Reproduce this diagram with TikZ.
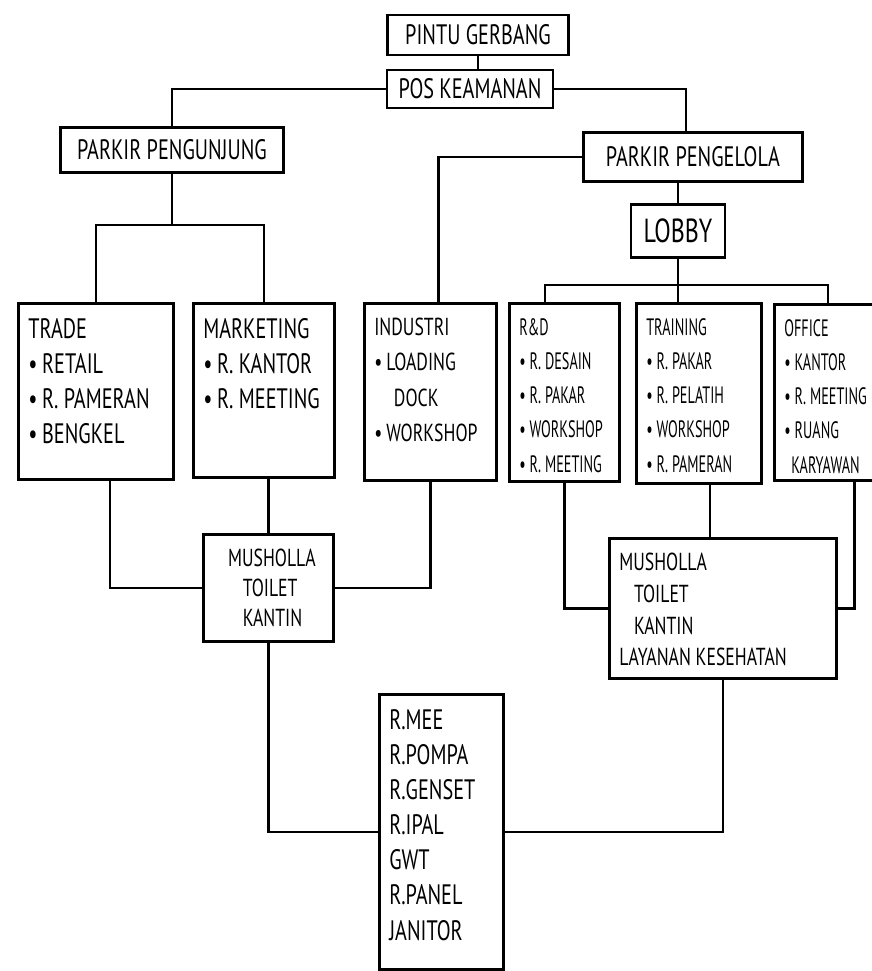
\documentclass[tikz,border=0pt]{standalone}
\usepackage{fontspec}
\setmainfont{PT Sans}[FakeStretch=0.72]
\newfontfamily\narrowfont{PT Sans}[FakeStretch=0.6]
\usetikzlibrary{positioning}
\newlength{\pxu}
\setlength{\pxu}{0.02cm}
\newcommand{\roomtext}[3]{\parbox[t][\dimexpr#2\pxu-20\pxu\relax][t]{\dimexpr#1\pxu-20\pxu\relax}{\raggedright\vspace*{5\pxu}#3}}

\begin{document}
\begin{tikzpicture}[x=0.02cm, y=-0.02cm, line width=1.5pt,
    every node/.style={font=\fontsize{16}{20}\selectfont},
    label/.style={draw, line width=1.5pt, inner sep=0pt},
    room/.style={draw, line width=1.5pt, anchor=north west, inner sep=10\pxu},
    smalltext/.style={font=\narrowfont\fontsize{13.5}{19.5}\selectfont}]
            \useasboundingbox (0,0) rectangle (872,971);
            \clip (0,0) rectangle (872,971);

            % top of the site
            \node[label, minimum width=181\pxu, minimum height=40\pxu] (gate) at (478,35) {PINTU GERBANG};
            \node[label, minimum width=166\pxu, minimum height=38\pxu] (pos) at (470,89) {POS KEAMANAN};
            \node[label, minimum width=223\pxu, minimum height=45\pxu] (pvisit) at (172,150) {PARKIR PENGUNJUNG};
            \node[label, minimum width=219\pxu, minimum height=49\pxu] (pstaff) at (693,157) {PARKIR PENGELOLA};
            \node[label, minimum width=94\pxu, minimum height=53\pxu, font=\fontsize{19}{20}\selectfont] (lobby) at (678,231) {LOBBY};

            % rooms
            \node[room] (trade) at (17,302) {\roomtext{155}{176}{TRADE\\ \textbullet\,RETAIL\\ \textbullet\,R. PAMERAN\\ \textbullet\,BENGKEL}};
            \node[room] (mkt) at (192,302) {\roomtext{141}{174}{MARKETING\\ \textbullet\,R. KANTOR\\ \textbullet\,R. MEETING}};
            \node[room, font=\fontsize{14}{20}\selectfont] (indus) at (363,302) {\roomtext{132}{177}{INDUSTRI\\ \textbullet\,LOADING\\ \hspace*{0.8em}DOCK\\ \textbullet\,WORKSHOP}};
            \node[room, smalltext] (rnd) at (508,302) {\roomtext{110}{178}{R\&D\\ \textbullet\,R. DESAIN\\ \textbullet\,R. PAKAR\\ \textbullet\,WORKSHOP\\ \textbullet\,R. MEETING}};
            \node[room, smalltext] (train) at (635,302) {\roomtext{125}{180}{TRAINING\\ \textbullet\,R. PAKAR\\ \textbullet\,R. PELATIH\\ \textbullet\,WORKSHOP\\ \textbullet\,R. PAMERAN}};
            \node[room, smalltext] (office) at (773,303) {\roomtext{160}{176}{OFFICE\\ \textbullet\,KANTOR\\ \textbullet\,R. MEETING\\ \textbullet\,RUANG\\ \hspace*{0.3em}KARYAWAN}};

            % shared services
            \node[room, font=\fontsize{14}{17}\selectfont] (mus1) at (202,533) {\roomtext{130}{107}{\hspace*{0.6em}MUSHOLLA\\ \hspace*{1.2em}TOILET\\ \hspace*{1.2em}KANTIN}};
            \node[room, font=\fontsize{14}{18}\selectfont] (mus2) at (608,537) {\roomtext{227}{140}{MUSHOLLA\\ \hspace*{0.6em}TOILET\\ \hspace*{0.6em}KANTIN\\ LAYANAN KESEHATAN}};
            \node[room] (mne) at (378,693) {\roomtext{124}{275}{R.MEE\\ R.POMPA\\ R.GENSET\\ R.IPAL\\ GWT\\ R.PANEL\\ JANITOR}};

            \coordinate (lbus) at (172,225);
            \coordinate (rbusL) at (545,285);
            \coordinate (rbusR) at (828,285);

            \draw (gate.south) -- (gate.south |- pos.north);
            \draw (pos.west) -| (pvisit.north);
            \draw (pos.east) -| ([xshift=-7\pxu]pstaff.north);
            \draw (pstaff.west) -| ([xshift=8\pxu]indus.north);
            \draw (lobby.north) -- (lobby.north |- pstaff.south);

            \draw (pvisit.south) -- (lbus);
            \draw (trade.north) |- (lbus) -| (mkt.north);
            \draw (rbusL |- rnd.north) -- (rbusL) -- (rbusR) -- (rbusR |- office.north);
            \draw (lobby.south) -- (lobby.south |- train.north);

            \draw ([xshift=14\pxu]trade.south) |- (mus1.west);
            \draw (mus1.north) -- (mus1.north |- mkt.south);
            \draw (indus.south) |- (mus1.east);
            \draw (mus1.south) |- (mne.west);

            \draw (rnd.south) |- (mus2.west);
            \draw ([xshift=11\pxu]train.south) -- ([xshift=11\pxu]train.south |- mus2.north);
            \draw (office.south) |- (mus2.east);
            \draw (mus2.south) |- (mne.east);
        \end{tikzpicture}
\end{document}
